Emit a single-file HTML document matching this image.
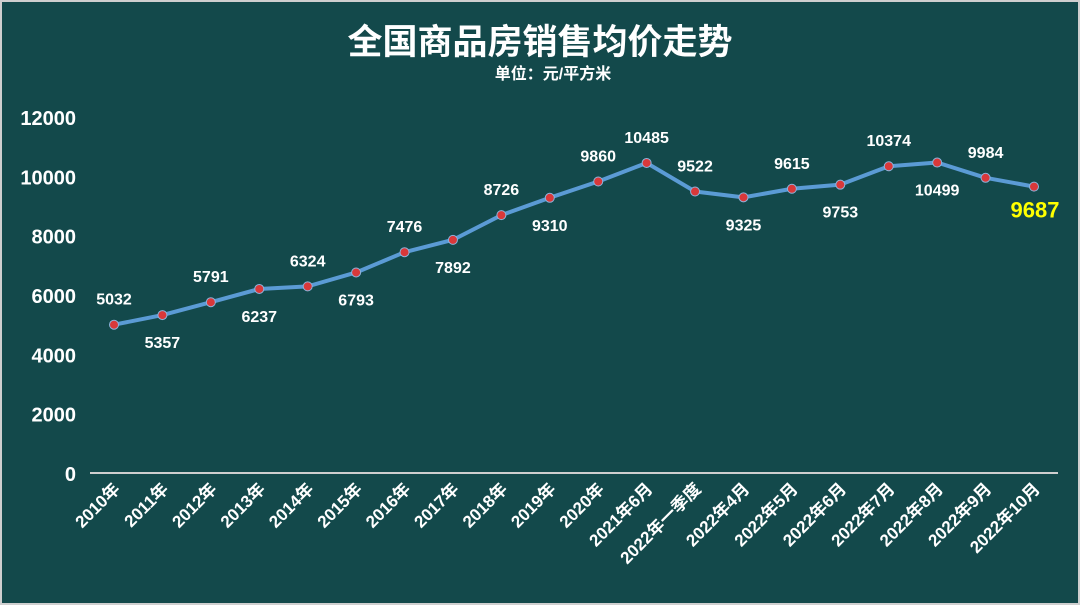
<!DOCTYPE html>
<html><head><meta charset="utf-8"><style>
html,body{margin:0;padding:0;background:#d9d9d9}
svg{display:block}
text{font-family:"Liberation Sans","Noto Sans CJK SC",sans-serif}
</style></head><body>
<svg id="c" width="1080" height="605" viewBox="0 0 1080 605">
<rect x="1" y="1" width="1078" height="603" fill="#13494b" stroke="#cfcfcf" stroke-width="2"/>
<text x="540" y="54" text-anchor="middle" fill="#fff" font-size="35" font-weight="bold">全国商品房销售均价走势</text>
<text x="553" y="79" text-anchor="middle" fill="#fff" font-size="16" font-weight="bold">单位：元/平方米</text>
<g id="g"></g>
</svg>
<script>
const categories=["2010年","2011年","2012年","2013年","2014年","2015年","2016年","2017年","2018年","2019年","2020年","2021年6月","2022年一季度","2022年4月","2022年5月","2022年6月","2022年7月","2022年8月","2022年9月","2022年10月"];
const prices=[5032,5357,5791,6237,6324,6793,7476,7892,8726,9310,9860,10485,9522,9325,9615,9753,10374,10499,9984,9687];
const labelAbove=[1,0,1,0,1,0,1,0,1,0,1,1,1,0,1,0,1,0,1,0];
const yTicks=[0,2000,4000,6000,8000,10000,12000];
const NS="http://www.w3.org/2000/svg";
const g=document.getElementById('g');
const x0=114,x1=1034,yb=474,yt=118,ymax=12000;
const xs=i=>x0+i*(x1-x0)/(categories.length-1);
const ys=v=>yb-v/ymax*(yb-yt);
function mk(t,a){const e=document.createElementNS(NS,t);for(const k in a)e.setAttribute(k,a[k]);g.appendChild(e);return e;}
yTicks.forEach(v=>{const t=mk('text',{x:76,y:ys(v)+7,'text-anchor':'end',fill:'#fff','font-size':20,'font-weight':'bold'});t.textContent=v;

});
const ax=mk('line',{x1:90,x2:1058,y1:473,y2:473,stroke:'#cfcfcf','stroke-width':2});


categories.forEach((c,i)=>{const x=xs(i)+7,y=490;const t=mk('text',{x:x,y:y,'text-anchor':'end',fill:'#fff','font-size':17,'font-weight':'bold',transform:`rotate(-45 ${x} ${y})`});t.textContent=c;

});
const pl=mk('polyline',{points:prices.map((v,i)=>xs(i)+','+ys(v)).join(' '),fill:'none',stroke:'#5b9bd5','stroke-width':4,'stroke-linejoin':'round'});


prices.forEach((v,i)=>{const p=mk('circle',{cx:xs(i),cy:ys(v),r:4.5,fill:'#d9383a',stroke:'#8fb4dc','stroke-width':1});


const last=i===prices.length-1;
const t=mk('text',{x:last?xs(i)+1:xs(i),y:last?ys(v)+31:(labelAbove[i]?ys(v)-20:ys(v)+33),'text-anchor':'middle',fill:last?'#ffff00':'#fff','font-size':last?22:16,'font-weight':'bold'});t.textContent=v;

});
</script>
</body></html>
